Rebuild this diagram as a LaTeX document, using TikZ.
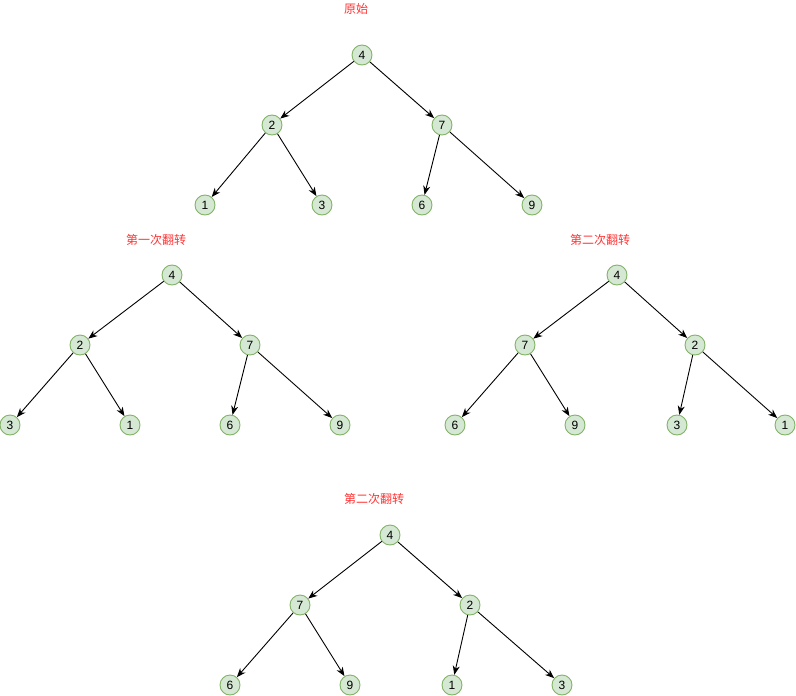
\documentclass[tikz,border=0pt]{standalone}
\usepackage{fontspec}
\setmainfont{Liberation Sans}
\newfontfamily\cjk{Noto Sans CJK SC}
\usetikzlibrary{arrows.meta}
\definecolor{nodefill}{HTML}{D5E8D4}
\definecolor{nodeline}{HTML}{82B366}
\definecolor{titlered}{HTML}{FF3333}
\begin{document}
\begin{tikzpicture}[x=1pt,y=-1pt,
  tn/.style={circle,draw=nodeline,fill=nodefill,line width=0.9pt,minimum size=20pt,inner sep=0pt,font=\fontsize{12}{12}\selectfont},
  ttl/.style={text=titlered,font=\cjk\fontsize{12}{12}\selectfont},
  edge/.style={-{Stealth[length=9pt,width=7pt,inset=2.8pt]},line width=0.9pt}]
\useasboundingbox (0,0) rectangle (796,696);
% Tree 1
\node[ttl] (t1) at (356,9) {原始};
\node[tn] (a4) at (362,55) {4};
\node[tn] (a2) at (272,125) {2};
\node[tn] (a7) at (442,125) {7};
\node[tn] (a1) at (205,205) {1};
\node[tn] (a3) at (322,205) {3};
\node[tn] (a6) at (422,205) {6};
\node[tn] (a9) at (532,205) {9};
\draw[edge] (a4) -- (a2);
\draw[edge] (a4) -- (a7);
\draw[edge] (a2) -- (a1);
\draw[edge] (a2) -- (a3);
\draw[edge] (a7) -- (a6);
\draw[edge] (a7) -- (a9);
% Tree 2
\node[ttl] (t2) at (156,240) {第一次翻转};
\node[tn] (b4) at (172,275) {4};
\node[tn] (b2) at (80,345) {2};
\node[tn] (b7) at (250,345) {7};
\node[tn] (b3) at (10,425) {3};
\node[tn] (b1) at (130,425) {1};
\node[tn] (b6) at (230,425) {6};
\node[tn] (b9) at (340,425) {9};
\draw[edge] (b4) -- (b2);
\draw[edge] (b4) -- (b7);
\draw[edge] (b2) -- (b3);
\draw[edge] (b2) -- (b1);
\draw[edge] (b7) -- (b6);
\draw[edge] (b7) -- (b9);
% Tree 3
\node[ttl] (t3) at (600,240) {第二次翻转};
\node[tn] (c4) at (617,275) {4};
\node[tn] (c7) at (525,345) {7};
\node[tn] (c2) at (695,345) {2};
\node[tn] (c6) at (455,425) {6};
\node[tn] (c9) at (575,425) {9};
\node[tn] (c3) at (677,425) {3};
\node[tn] (c1) at (785,425) {1};
\draw[edge] (c4) -- (c7);
\draw[edge] (c4) -- (c2);
\draw[edge] (c7) -- (c6);
\draw[edge] (c7) -- (c9);
\draw[edge] (c2) -- (c3);
\draw[edge] (c2) -- (c1);
% Tree 4
\node[ttl] (t4) at (374,499) {第二次翻转};
\node[tn] (d4) at (390,535) {4};
\node[tn] (d7) at (300,605) {7};
\node[tn] (d2) at (470,605) {2};
\node[tn] (d6) at (230,685) {6};
\node[tn] (d9) at (350,685) {9};
\node[tn] (d1) at (452,685) {1};
\node[tn] (d3) at (562,685) {3};
\draw[edge] (d4) -- (d7);
\draw[edge] (d4) -- (d2);
\draw[edge] (d7) -- (d6);
\draw[edge] (d7) -- (d9);
\draw[edge] (d2) -- (d1);
\draw[edge] (d2) -- (d3);
\end{tikzpicture}
\end{document}
